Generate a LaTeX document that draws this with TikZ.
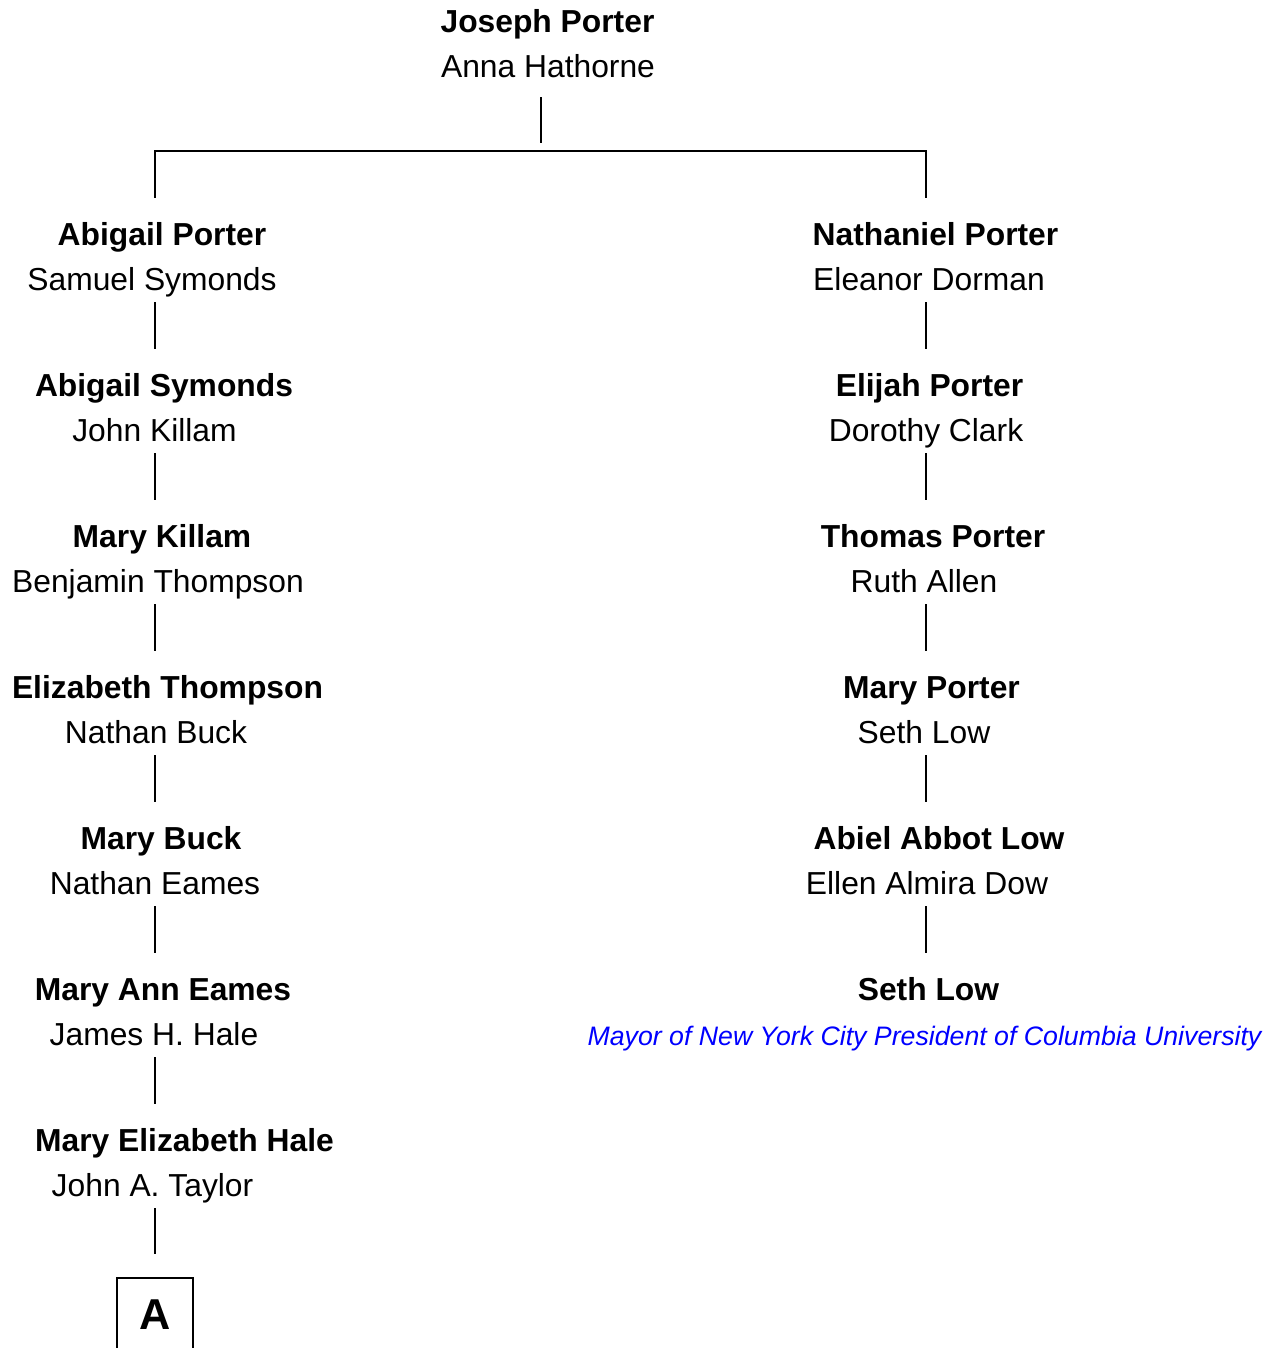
\documentclass[tikz,border=0pt]{standalone}
\usepackage{fontspec}
\setmainfont{Liberation Sans}

\begin{document}
\begin{tikzpicture}[x=0.02cm,y=-0.02cm,
    anc/.style={anchor=base,inner sep=0,text height=0.94cm,font=\bfseries\fontsize{18.1}{22}\selectfont},
    spo/.style={anchor=base,inner sep=0,text depth=0.24cm,font=\fontsize{18.1}{22}\selectfont},
    note/.style={anchor=base,inner sep=0,text=blue,font=\itshape\fontsize{15.2}{18}\selectfont},
    link/.style={line width=0.8pt}]
    \useasboundingbox (0,0) rectangle (1279,1348);
    \coordinate (lineL) at (155,0);
    \coordinate (lineR) at (926,0);
    \coordinate (bar) at (541,151);

    % Joseph Porter and Anna Hathorne
    \node[anc] (jp) at (547.5,33) {Joseph Porter};
    \node[spo,text depth=0.38cm] (ah) at (548,78) {Anna Hathorne};

    % left line
    \foreach \who/\xa/\mate/\xm [count=\i from 0] in {Abigail Porter/162/Samuel Symonds/152,
        Abigail Symonds/164/John Killam/154.5, Mary Killam/162/Benjamin Thompson/158,
        Elizabeth Thompson/167.5/Nathan Buck/156, Mary Buck/161/Nathan Eames/155,
        Mary Ann Eames/163/James H. Hale/154, Mary Elizabeth Hale/184.5/John A. Taylor/152.5}
    {
        \node[anc] (L\i) at (\xa,{245+151*\i}) {\who};
        \node[spo] (Ls\i) at (\xm,{290+151*\i}) {\mate};
    }

    % right line
    \foreach \who/\xa/\mate/\xm [count=\i from 0] in {Nathaniel Porter/935.5/Eleanor Dorman/929,
        Elijah Porter/929.5/Dorothy Clark/926, Thomas Porter/933/Ruth Allen/924,
        Mary Porter/931.5/Seth Low/924, Abiel Abbot Low/939/Ellen Almira Dow/927}
    {
        \node[anc] (R\i) at (\xa,{245+151*\i}) {\who};
        \node[spo] (Rs\i) at (\xm,{290+151*\i}) {\mate};
    }
    \node[anc] (R5) at (928.5,1000) {Seth Low};
    \node[note] (Rs5) at (924.5,1045) {Mayor of New York City President of Columbia University};

    \node[draw,line width=0.8pt,minimum width=1.52cm,minimum height=1.48cm,
        font=\bfseries\fontsize{24.6}{28}\selectfont] (more) at (155,1315) {A};

    % connectors
    \draw[link] (ah.south -| bar) -- ([yshift=0.16cm]bar);
    \draw[link] (L0.north -| lineL) -- (lineL |- bar) -- (lineR |- bar) -- (R0.north -| lineR);
    \foreach \i [count=\j from 1] in {0,...,5}
        \draw[link] (Ls\i.south -| lineL) -- (L\j.north -| lineL);
    \foreach \i [count=\j from 1] in {0,...,4}
        \draw[link] (Rs\i.south -| lineR) -- (R\j.north -| lineR);
    \draw[link,shorten >=0.46cm] (Ls6.south -| lineL) -- (more.north -| lineL);
\end{tikzpicture}
\end{document}
